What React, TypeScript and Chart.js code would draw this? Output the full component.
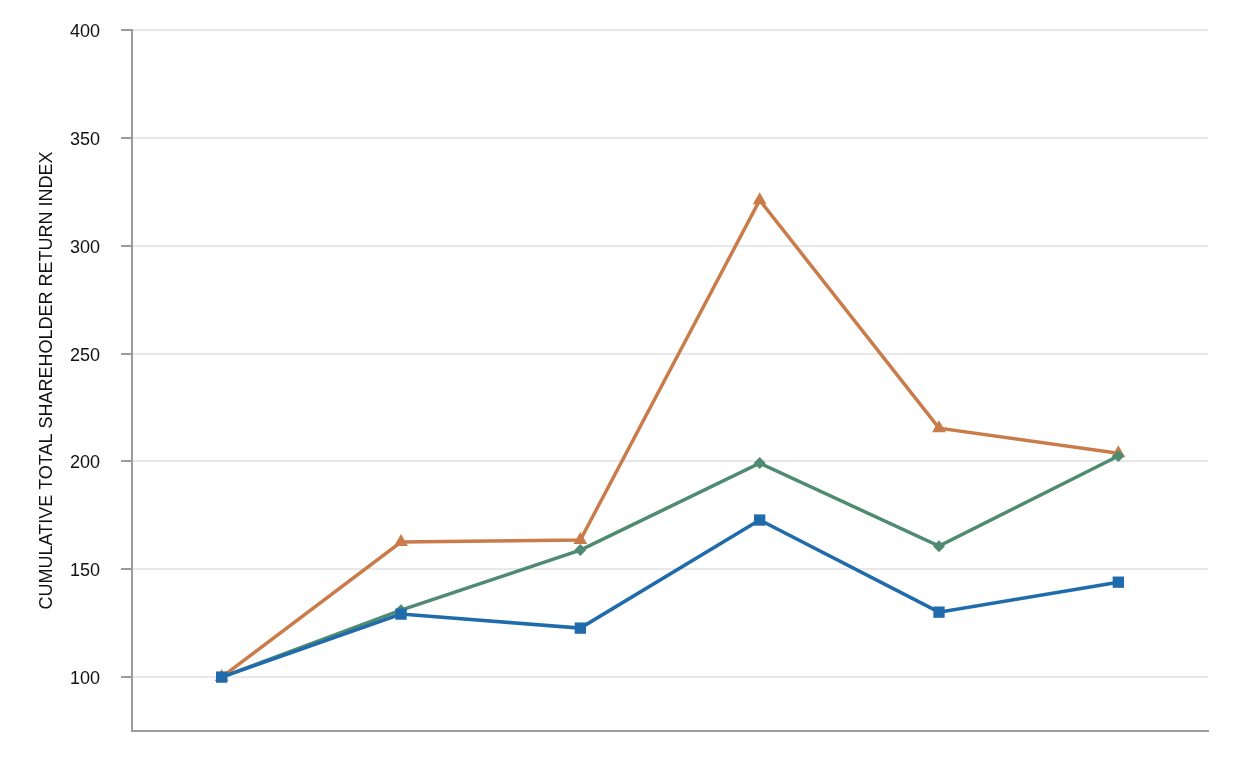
import React, { useEffect, useRef } from "react";
import { Chart, registerables } from "chart.js";

Chart.register(...registerables);

const categories = ["2014", "2015", "2016", "2017", "2018", "2019"];
const companyValues = [100, 129.2, 122.7, 172.8, 130.1, 144.0];
const indexAValues = [100, 131, 158.9, 199.2, 160.7, 202.5];
const indexBValues = [100, 162.6, 163.5, 321.1, 215.4, 203.8];
const yTicks = [100, 150, 200, 250, 300, 350, 400];
const yTitle = "CUMULATIVE TOTAL SHAREHOLDER RETURN INDEX";

export default function App() {
  const ref = useRef<HTMLCanvasElement>(null);
  useEffect(() => {
    if (!ref.current) return;
    const chart = new Chart(ref.current, {
      type: "line",
      data: {
        labels: categories,
        datasets: [
          {
            label: "Company",
            data: companyValues,
            borderColor: "#1f6bac",
            backgroundColor: "#1f6bac",
            borderWidth: 3.5,
            pointStyle: "rect",
            pointRadius: 8,
            pointBorderWidth: 0,
            tension: 0,
          },
          {
            label: "Index A",
            data: indexAValues,
            borderColor: "#4f8a72",
            backgroundColor: "#4f8a72",
            borderWidth: 3.5,
            pointStyle: "rectRot",
            pointRadius: 6,
            pointBorderWidth: 0,
            tension: 0,
          },
          {
            label: "Index B",
            data: indexBValues,
            borderColor: "#c97c4a",
            backgroundColor: "#c97c4a",
            borderWidth: 3.5,
            pointStyle: "triangle",
            pointRadius: 8,
            pointBorderWidth: 0,
            tension: 0,
          },
        ],
      },
      options: {
        animation: false,
        responsive: true,
        maintainAspectRatio: false,
        layout: { padding: { left: 32, right: 30, top: 30, bottom: 29 } },
        plugins: { legend: { display: false }, tooltip: { enabled: false } },
        scales: {
          x: {
            offset: true,
            ticks: { display: false },
            grid: { display: false, drawTicks: false },
            border: { display: true, color: "#9a9a9a", width: 2 },
            afterFit: (s: any) => {
              s.height = 0;
              s.paddingLeft = 0;
              s.paddingRight = 0;
            },
          },
          y: {
            min: 75,
            max: 400,
            afterBuildTicks: (s: any) => {
              s.ticks = yTicks.map((v) => ({ value: v }));
            },
            afterFit: (s: any) => {
              s.width = 100;
              s.paddingTop = 0;
              s.paddingBottom = 0;
            },
            ticks: {
              color: "#111",
              font: { family: "'Liberation Sans', Arial, sans-serif", size: 18 },
              padding: 21,
              labelOffset: 2,
            },
            grid: {
              color: "#e8e8e8",
              lineWidth: 2,
              tickLength: 11,
              tickColor: "#9a9a9a",
              tickWidth: 2,
            },
            border: { display: true, color: "#9a9a9a", width: 2 },
            title: {
              display: true,
              text: yTitle,
              color: "#111",
              font: { family: "'Liberation Sans', Arial, sans-serif", size: 18 },
              padding: { top: 4, bottom: 4 },
            },
          },
        },
      },
    });
    return () => chart.destroy();
  }, []);
  return (
    <div style={{ position: "absolute", left: 0, top: 0, width: 1238, height: 760, background: "#fff" }}>
      <canvas ref={ref} />
    </div>
  );
}
